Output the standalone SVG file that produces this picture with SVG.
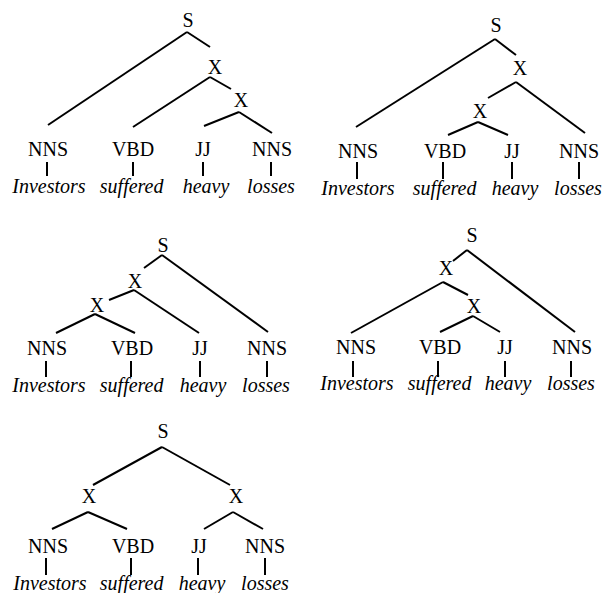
<svg xmlns="http://www.w3.org/2000/svg" width="607" height="593" viewBox="0 0 607 593" font-family="Liberation Serif" font-size="20">
<rect width="607" height="593" fill="#fff"/>
<g id="tree1">
<g id="t1-S"><text font-family="Liberation Serif" font-size="20" x="182.4" y="27">S</text></g>
<g id="t1-X1"><text font-family="Liberation Serif" font-size="20" x="207.8" y="74">X</text></g>
<g id="t1-X2"><text font-family="Liberation Serif" font-size="20" x="233.8" y="107">X</text></g>
<g id="t1-NNS1"><text font-family="Liberation Serif" font-size="20" x="28" y="156">NNS</text><text font-family="Liberation Serif" font-size="20" font-style="italic" x="12.3" y="193">Investors</text></g>
<g id="t1-VBD"><text font-family="Liberation Serif" font-size="20" x="111.9" y="156">VBD</text><text font-family="Liberation Serif" font-size="20" font-style="italic" x="99.8" y="193">suffered</text></g>
<g id="t1-JJ"><text font-family="Liberation Serif" font-size="20" x="195.2" y="156">JJ</text><text font-family="Liberation Serif" font-size="20" font-style="italic" x="182.7" y="193">heavy</text></g>
<g id="t1-NNS2"><text font-family="Liberation Serif" font-size="20" x="252" y="156">NNS</text><text font-family="Liberation Serif" font-size="20" font-style="italic" x="247.1" y="193">losses</text></g>
<g id="t1-edges" stroke="#000" stroke-width="2">
<line x1="187" y1="32" x2="48" y2="125"/>
<line x1="187" y1="32" x2="210" y2="47"/>
<line x1="210" y1="77" x2="133" y2="127"/>
<line x1="210" y1="77" x2="231" y2="89"/>
<line x1="239" y1="112" x2="204" y2="126"/>
<line x1="239" y1="112" x2="272" y2="133"/>
<line x1="47" y1="162" x2="47" y2="176"/>
<line x1="133" y1="162" x2="133" y2="176"/>
<line x1="203" y1="162" x2="203" y2="176"/>
<line x1="271" y1="162" x2="271" y2="176"/>
</g>
</g>
<g id="tree2">
<g id="t2-S"><text font-family="Liberation Serif" font-size="20" x="490.4" y="32">S</text></g>
<g id="t2-X1"><text font-family="Liberation Serif" font-size="20" x="512.8" y="75">X</text></g>
<g id="t2-X2"><text font-family="Liberation Serif" font-size="20" x="472.8" y="118">X</text></g>
<g id="t2-NNS1"><text font-family="Liberation Serif" font-size="20" x="338" y="158">NNS</text><text font-family="Liberation Serif" font-size="20" font-style="italic" x="321.3" y="195">Investors</text></g>
<g id="t2-VBD"><text font-family="Liberation Serif" font-size="20" x="423.9" y="158">VBD</text><text font-family="Liberation Serif" font-size="20" font-style="italic" x="412.8" y="195">suffered</text></g>
<g id="t2-JJ"><text font-family="Liberation Serif" font-size="20" x="504.2" y="158">JJ</text><text font-family="Liberation Serif" font-size="20" font-style="italic" x="491.7" y="195">heavy</text></g>
<g id="t2-NNS2"><text font-family="Liberation Serif" font-size="20" x="559" y="158">NNS</text><text font-family="Liberation Serif" font-size="20" font-style="italic" x="554.1" y="195">losses</text></g>
<g id="t2-edges" stroke="#000" stroke-width="2">
<line x1="495" y1="39" x2="356" y2="127"/>
<line x1="495" y1="39" x2="516" y2="55"/>
<line x1="516" y1="82" x2="488" y2="98"/>
<line x1="516" y1="82" x2="585" y2="133"/>
<line x1="478" y1="122" x2="448" y2="135"/>
<line x1="478" y1="122" x2="508" y2="135"/>
<line x1="357" y1="162" x2="357" y2="179"/>
<line x1="443" y1="162" x2="443" y2="179"/>
<line x1="512" y1="162" x2="512" y2="179"/>
<line x1="579" y1="162" x2="579" y2="179"/>
</g>
</g>
<g id="tree3">
<g id="t3-S"><text font-family="Liberation Serif" font-size="20" x="157.4" y="252">S</text></g>
<g id="t3-X1"><text font-family="Liberation Serif" font-size="20" x="127.8" y="288">X</text></g>
<g id="t3-X2"><text font-family="Liberation Serif" font-size="20" x="89.8" y="312">X</text></g>
<g id="t3-NNS1"><text font-family="Liberation Serif" font-size="20" x="27" y="355">NNS</text><text font-family="Liberation Serif" font-size="20" font-style="italic" x="12.3" y="392">Investors</text></g>
<g id="t3-VBD"><text font-family="Liberation Serif" font-size="20" x="110.9" y="355">VBD</text><text font-family="Liberation Serif" font-size="20" font-style="italic" x="99.8" y="392">suffered</text></g>
<g id="t3-JJ"><text font-family="Liberation Serif" font-size="20" x="192.2" y="355">JJ</text><text font-family="Liberation Serif" font-size="20" font-style="italic" x="179.7" y="392">heavy</text></g>
<g id="t3-NNS2"><text font-family="Liberation Serif" font-size="20" x="247" y="355">NNS</text><text font-family="Liberation Serif" font-size="20" font-style="italic" x="242.1" y="392">losses</text></g>
<g id="t3-edges" stroke="#000" stroke-width="2">
<line x1="162" y1="255" x2="144" y2="268"/>
<line x1="162" y1="255" x2="268" y2="332"/>
<line x1="134" y1="290" x2="109" y2="300"/>
<line x1="134" y1="290" x2="199" y2="333"/>
<line x1="95" y1="314" x2="56" y2="333"/>
<line x1="95" y1="314" x2="135" y2="333"/>
<line x1="46" y1="361" x2="46" y2="377"/>
<line x1="131" y1="361" x2="131" y2="377"/>
<line x1="200" y1="361" x2="200" y2="377"/>
<line x1="267" y1="361" x2="267" y2="377"/>
</g>
</g>
<g id="tree4">
<g id="t4-S"><text font-family="Liberation Serif" font-size="20" x="466.4" y="242">S</text></g>
<g id="t4-X1"><text font-family="Liberation Serif" font-size="20" x="438.8" y="275">X</text></g>
<g id="t4-X2"><text font-family="Liberation Serif" font-size="20" x="466.8" y="313">X</text></g>
<g id="t4-NNS1"><text font-family="Liberation Serif" font-size="20" x="336" y="354">NNS</text><text font-family="Liberation Serif" font-size="20" font-style="italic" x="320.3" y="390">Investors</text></g>
<g id="t4-VBD"><text font-family="Liberation Serif" font-size="20" x="418.9" y="354">VBD</text><text font-family="Liberation Serif" font-size="20" font-style="italic" x="407.8" y="390">suffered</text></g>
<g id="t4-JJ"><text font-family="Liberation Serif" font-size="20" x="497.2" y="354">JJ</text><text font-family="Liberation Serif" font-size="20" font-style="italic" x="484.7" y="390">heavy</text></g>
<g id="t4-NNS2"><text font-family="Liberation Serif" font-size="20" x="552" y="354">NNS</text><text font-family="Liberation Serif" font-size="20" font-style="italic" x="547.1" y="390">losses</text></g>
<g id="t4-edges" stroke="#000" stroke-width="2">
<line x1="467" y1="250" x2="453" y2="261"/>
<line x1="467" y1="250" x2="575" y2="332"/>
<line x1="443" y1="282" x2="351" y2="333"/>
<line x1="443" y1="282" x2="468" y2="295"/>
<line x1="473" y1="316" x2="440" y2="332"/>
<line x1="473" y1="316" x2="500" y2="332"/>
<line x1="353" y1="361" x2="353" y2="377"/>
<line x1="438" y1="361" x2="438" y2="377"/>
<line x1="505" y1="361" x2="505" y2="377"/>
<line x1="571" y1="361" x2="571" y2="377"/>
</g>
</g>
<g id="tree5">
<g id="t5-S"><text font-family="Liberation Serif" font-size="20" x="157.4" y="438">S</text></g>
<g id="t5-X1"><text font-family="Liberation Serif" font-size="20" x="81.8" y="503">X</text></g>
<g id="t5-X2"><text font-family="Liberation Serif" font-size="20" x="228.8" y="503">X</text></g>
<g id="t5-NNS1"><text font-family="Liberation Serif" font-size="20" x="28" y="553">NNS</text><text font-family="Liberation Serif" font-size="20" font-style="italic" x="13.3" y="590">Investors</text></g>
<g id="t5-VBD"><text font-family="Liberation Serif" font-size="20" x="111.9" y="553">VBD</text><text font-family="Liberation Serif" font-size="20" font-style="italic" x="99.8" y="590">suffered</text></g>
<g id="t5-JJ"><text font-family="Liberation Serif" font-size="20" x="191.2" y="553">JJ</text><text font-family="Liberation Serif" font-size="20" font-style="italic" x="178.7" y="590">heavy</text></g>
<g id="t5-NNS2"><text font-family="Liberation Serif" font-size="20" x="245" y="553">NNS</text><text font-family="Liberation Serif" font-size="20" font-style="italic" x="241.1" y="590">losses</text></g>
<g id="t5-edges" stroke="#000" stroke-width="2">
<line x1="162" y1="447" x2="93" y2="485"/>
<line x1="162" y1="447" x2="230" y2="485"/>
<line x1="88" y1="512" x2="52" y2="529"/>
<line x1="88" y1="512" x2="127" y2="529"/>
<line x1="233" y1="512" x2="204" y2="529"/>
<line x1="233" y1="512" x2="263" y2="529"/>
<line x1="46" y1="558" x2="46" y2="575"/>
<line x1="131" y1="558" x2="131" y2="575"/>
<line x1="198" y1="558" x2="198" y2="575"/>
<line x1="265" y1="558" x2="265" y2="575"/>
</g>
</g>
</svg>
